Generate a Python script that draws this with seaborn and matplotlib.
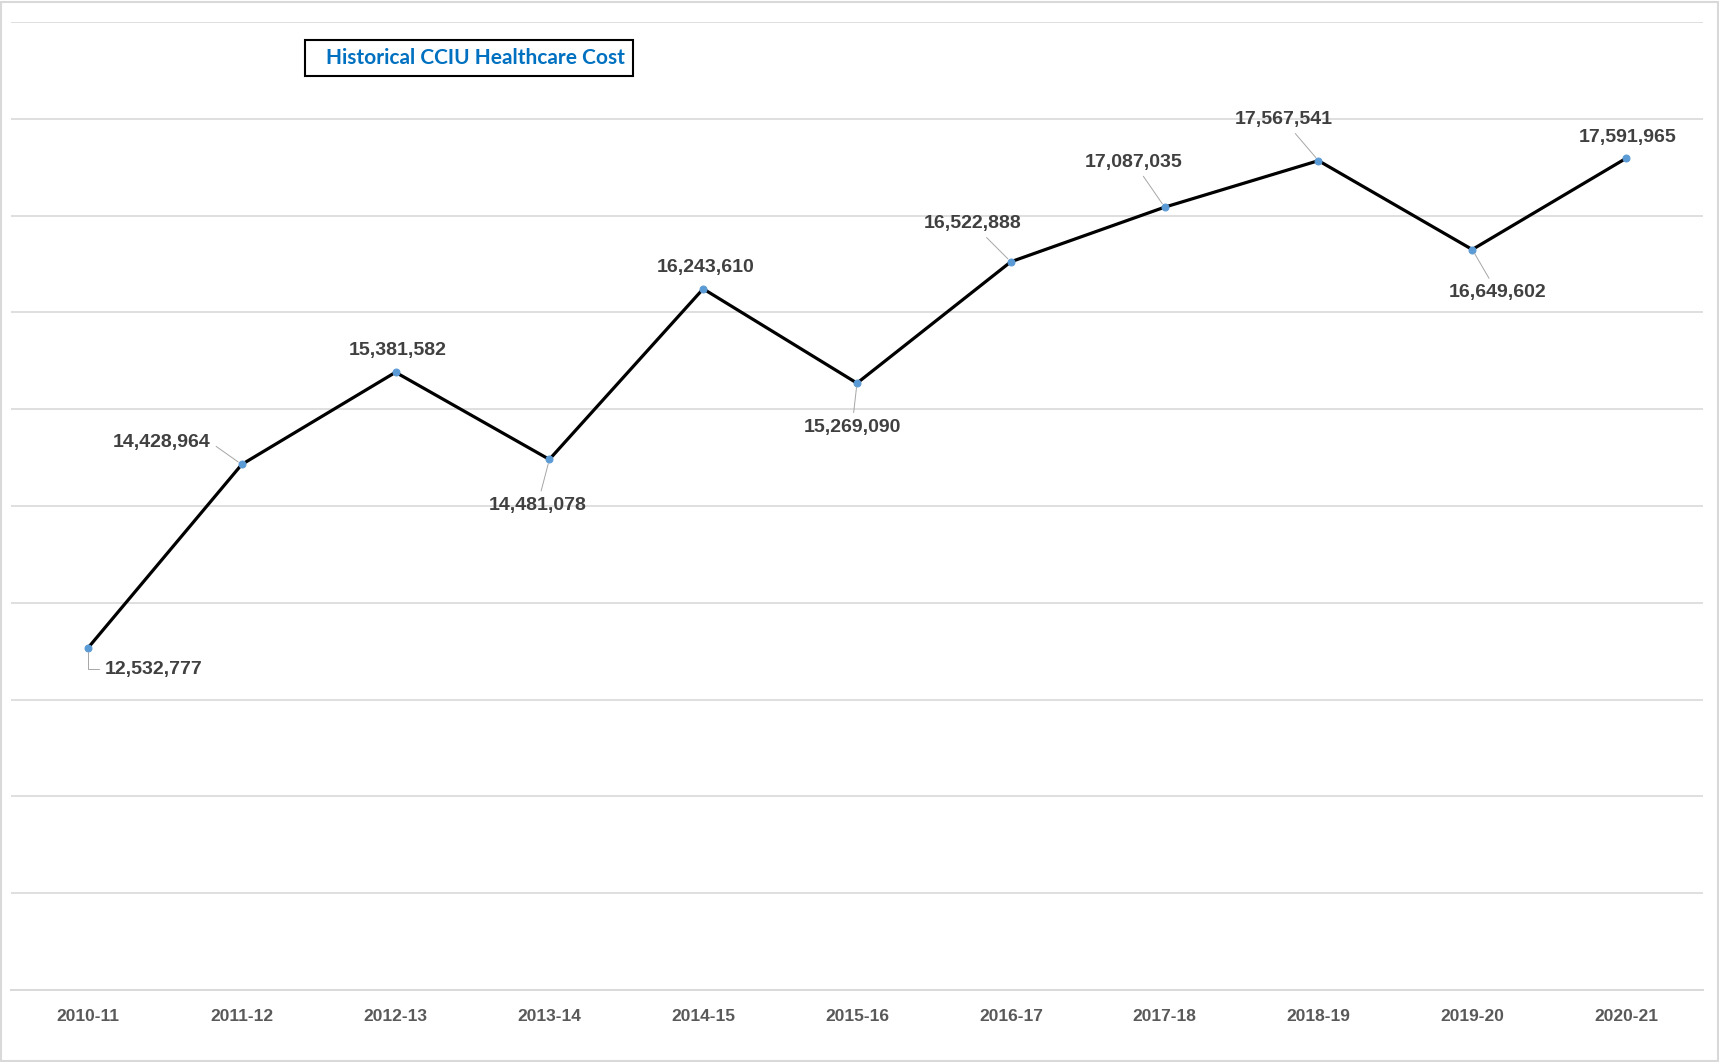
import numpy as np
import pandas as pd
import matplotlib
matplotlib.use("Agg")
import matplotlib.pyplot as plt
from matplotlib.patches import Rectangle
import seaborn as sns

# ── Data ───────────────────────────────────────────────────────────────────────
YEARS = ["2010-11", "2011-12", "2012-13", "2013-14", "2014-15", "2015-16",
         "2016-17", "2017-18", "2018-19", "2019-20", "2020-21"]
COSTS = [12532777, 14428964, 15381582, 14481078, 16243610, 15269090,
         16522888, 17087035, 17567541, 16649602, 17591965]

# label offsets (pixels) and whether a leader line is drawn
LABEL_OFFSETS = [(66, -21), (-80, 22), (2, 22), (-12, -46), (2, 21), (-5, -44),
                 (-38, 38), (-31, 45), (-35, 41), (25, -43), (2, 21)]
LEADERS = [True, True, False, True, False, True, True, True, True, True, False]

# ── Style ──────────────────────────────────────────────────────────────────────
sns.set_theme(style="white")
plt.rcParams["font.family"] = ["Liberation Sans", "DejaVu Sans"]

GRID  = "#d9d9d9"
LABEL = "#404040"
TICK  = "#595959"
DOT   = "#5b9bd5"

df = pd.DataFrame({"year": YEARS, "cost": COSTS})

fig = plt.figure(figsize=(17.19, 10.62), dpi=100)
ax = fig.add_axes([11 / 1719, 1 - 990 / 1062, (1703 - 11) / 1719, (990 - 22) / 1062])

sns.lineplot(data=df, x="year", y="cost", ax=ax, color="black", lw=2.3,
             marker="o", markersize=5, markerfacecolor=DOT, markeredgecolor=DOT,
             sort=False, zorder=3)

ax.set_xlim(-0.5, len(YEARS) - 0.5)
ax.set_ylim(9_000_000, 19_000_000)
ax.set_yticks(np.arange(9_000_000, 19_000_001, 1_000_000))
ax.yaxis.grid(True, color=GRID, lw=1.2)
ax.set_yticklabels([])
ax.tick_params(axis="y", length=0)
ax.tick_params(axis="x", length=0, pad=14, labelsize=12.5, labelcolor=TICK)
for t in ax.get_xticklabels():
    t.set_fontweight("bold")
ax.set_xlabel("")
ax.set_ylabel("")
for side in ["top", "right", "left"]:
    ax.spines[side].set_visible(False)
ax.spines["bottom"].set_color(GRID)
ax.spines["bottom"].set_linewidth(1.4)

# data labels
for i, (yr, v) in enumerate(zip(YEARS, COSTS)):
    dx, dy = LABEL_OFFSETS[i]
    arrow = None
    if LEADERS[i]:
        arrow = dict(arrowstyle="-", color="#a6a6a6", lw=0.7, shrinkA=2, shrinkB=3)
        if i == 0:
            arrow["connectionstyle"] = "angle,angleA=0,angleB=90,rad=0"
            arrow["relpos"] = (0, 0.5)
        elif i == 1:
            arrow["relpos"] = (1, 0.5)
    ax.annotate(f"{v:,}", xy=(i, v), xytext=(dx, dy), textcoords="offset pixels",
                ha="center", va="center", fontsize=14, fontweight="bold",
                color=LABEL, arrowprops=arrow, zorder=4)

# boxed title
fig.text(326 / 1719, 1 - 58 / 1062, "Historical CCIU Healthcare Cost",
         family=["Lato", "DejaVu Sans"], fontsize=15, fontweight="bold",
         color="#0070c0", ha="left", va="center")
fig.patches.append(Rectangle((305 / 1719, 1 - 76 / 1062), 328 / 1719, 36 / 1062,
                             transform=fig.transFigure, fill=False,
                             edgecolor="black", lw=1.5))

# light frame around the chart
fig.patches.append(Rectangle((0.0005, 0.0005), 0.999, 0.998, transform=fig.transFigure,
                             fill=False, edgecolor=GRID, lw=1.5))

plt.savefig("out.png", dpi=100)
